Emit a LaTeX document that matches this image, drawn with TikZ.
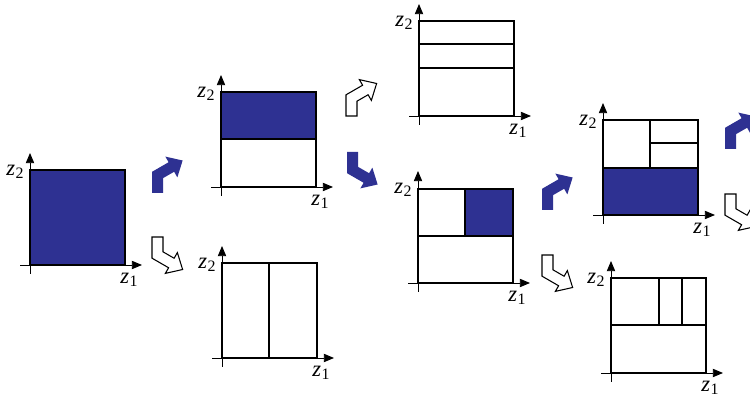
\documentclass[tikz,border=0pt]{standalone}
\usepackage{fontspec}
\setmainfont{Liberation Serif}
\usetikzlibrary{arrows.meta}
\definecolor{fillblue}{RGB}{46,49,146}
\newcommand\zlab[1]{\textit{z}\kern0.5pt\raisebox{-0.35ex}{\fontsize{12}{14}\selectfont #1}}
\begin{document}
\begin{tikzpicture}[x=0.0265cm,y=-0.0265cm,
  boxline/.style={line width=1.3pt,black},
  thinline/.style={line width=0.8pt,black},
  axisline/.style={line width=0.7pt,black,-{Triangle[length=2.7mm,width=2.2mm]}},
  lab/.style={inner sep=0pt,font=\fontsize{17}{20}\selectfont},
  bluearrow/.style={fill=fillblue,draw=none},
  whitearrow/.style={fill=white,draw=black,line width=0.8pt,line join=miter},
  bentup/.pic={\path[pic actions] (0,0) -- (0,-21.17) -- (16.61,-30.76) -- (13.36,-36.39) -- (30.62,-32.5) -- (25.36,-15.61) -- (22.11,-21.24) -- (11,-14.83) -- (11,0) -- cycle;}
]
\useasboundingbox (0,0) rectangle (750,402);
\newcommand\myaxes[3]{%
  \draw[axisline] (#1-10,#2+95) -- (#1+112,#2+95);
  \draw[axisline] (#1,#2+104) -- (#1,#2-17);
  \node[lab] (#3ztwo) at (#1-15,#2+2) {\zlab{2}};
  \node[lab] (#3zone) at (#1+99,#2+110) {\zlab{1}};
}
% Plot 1
\fill[fillblue] (30,170) rectangle (125,265);
\draw[boxline] (30,170) rectangle (125,265);
\myaxes{30}{170}{pa}
% Plot 2 top
\fill[fillblue] (221,92) rectangle (316,139);
\draw[boxline] (221,92) rectangle (316,187);
\draw[boxline] (221,139) -- (316,139);
\myaxes{221}{92}{pb}
% Plot 2 bottom
\draw[boxline] (222,263) rectangle (317,358);
\draw[boxline] (269,263) -- (269,358);
\myaxes{222}{263}{pc}
% Plot 3 top
\draw[boxline] (419,21) rectangle (514,116);
\draw[thinline] (419,44) -- (514,44);
\draw[boxline] (419,68) -- (514,68);
\myaxes{419}{21}{pd}
% Plot 3 middle
\fill[fillblue] (465,189) rectangle (513,236);
\draw[boxline] (418,189) rectangle (513,283);
\draw[boxline] (418,236) -- (513,236);
\draw[boxline] (465,189) -- (465,236);
\myaxes{418}{188}{pe}
% Plot 4 top
\fill[fillblue] (603,168) rectangle (698,215);
\draw[boxline] (603,120) rectangle (698,215);
\draw[boxline] (603,168) -- (698,168);
\draw[boxline] (650,120) -- (650,168);
\draw[boxline] (650,143) -- (698,143);
\myaxes{603}{120}{pf}
% Plot 4 bottom
\draw[boxline] (611,278) rectangle (706,373);
\draw[boxline] (611,325) -- (706,325);
\draw[boxline] (659,278) -- (659,325);
\draw[boxline] (682,278) -- (682,325);
\myaxes{611}{278}{pg}
% bent arrows
\pic[bluearrow] at (152,193) {bentup};
\pic[whitearrow,yscale=-1] at (152,237) {bentup};
\pic[whitearrow] at (346,116) {bentup};
\pic[bluearrow,yscale=-1] at (347,152) {bentup};
\pic[bluearrow] at (542,210) {bentup};
\pic[whitearrow,yscale=-1] at (542,255) {bentup};
\pic[bluearrow] at (725,149) {bentup};
\pic[whitearrow,yscale=-1] at (725,194) {bentup};
\end{tikzpicture}
\end{document}
